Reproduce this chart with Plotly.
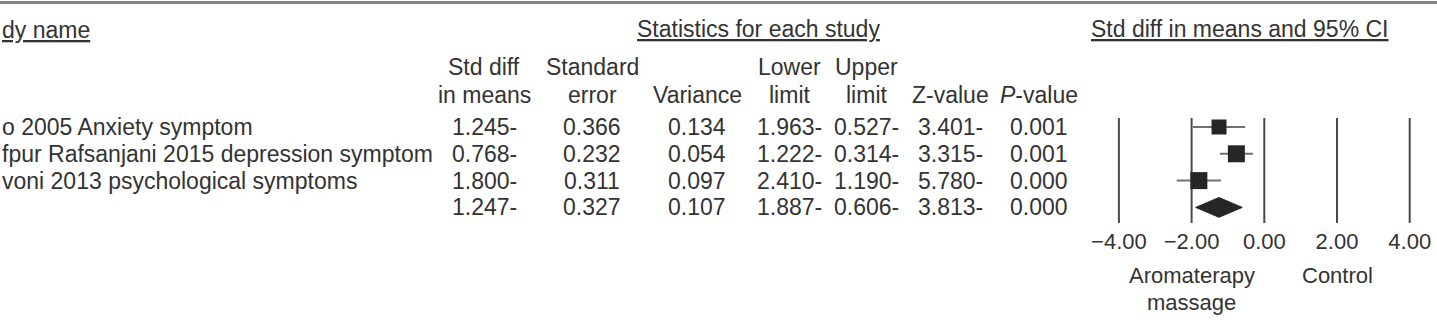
import plotly.graph_objects as go

# ---------------- data ----------------
studies = ["o 2005 Anxiety symptom",
           "fpur Rafsanjani 2015 depression symptom",
           "voni 2013 psychological symptoms"]
std_diff = [-1.245, -0.768, -1.800]
std_err = [0.366, 0.232, 0.311]
variance = [0.134, 0.054, 0.097]
lower = [-1.963, -1.222, -2.410]
upper = [-0.527, -0.314, -1.190]
z_value = [-3.401, -3.315, -5.780]
p_value = [0.001, 0.001, 0.000]

pooled_diff = -1.247
pooled_se = 0.327
pooled_var = 0.107
pooled_lower = -1.887
pooled_upper = -0.606
pooled_z = -3.813
pooled_p = 0.000

tick_vals = [-4, -2, 0, 2, 4]
left_label = ["Aromaterapy", "massage"]
right_label = "Control"

# ---------------- layout helpers ----------------
W, H = 1437, 323
FONT = "Liberation Sans, Arial, sans-serif"
TXT = "#333333"
FS = 23

def px(x):
    return x / W

def py(y):
    return 1 - y / H

# x scale: 0 at pixel 1264.3, 36.35 px per unit
X0, XS = 1264.3, 36.35
xr = [(0 - X0) / XS, (W - X0) / XS]
# y scale: row r at pixel 127 + 27*(r-1); axis bottom at pixel 226
ROW0, RS, YB = 127, 26.8, 226
yv = lambda p: 1 + (p - ROW0) / RS
yr = [yv(YB), yv(0)]


def neg(v):
    # values printed with trailing minus sign as in the source
    s = f"{abs(v):.3f}"
    return s + "-" if v < 0 else s


fig = go.Figure()

# vertical reference lines
line_top, line_bot = yv(118), yv(223)
for t in tick_vals:
    fig.add_trace(go.Scatter(x=[t, t], y=[line_top, line_bot], mode="lines",
                             line=dict(color="#4a4a4a", width=2),
                             hoverinfo="skip", showlegend=False))

rows = [1, 2, 3]
# confidence interval lines
ci_x, ci_y = [], []
for l, u, r in zip(lower, upper, rows):
    ci_x += [l, u, None]
    ci_y += [r, r, None]
fig.add_trace(go.Scatter(x=ci_x, y=ci_y, mode="lines",
                         line=dict(color="#707070", width=2),
                         hoverinfo="skip", showlegend=False))

# study squares
fig.add_trace(go.Scatter(
    x=std_diff, y=rows, mode="markers",
    marker=dict(symbol="square", size=[15, 17, 17], color="#262626",
                opacity=1, line=dict(width=0)),
    showlegend=False, hoverinfo="skip"))

# pooled diamond
dh = 0.37
fig.add_trace(go.Scatter(
    x=[pooled_lower, pooled_diff, pooled_upper, pooled_diff, pooled_lower],
    y=[4, 4 - dh, 4, 4 + dh, 4], mode="lines", fill="toself",
    fillcolor="#262626", line=dict(color="#262626", width=1),
    showlegend=False, hoverinfo="skip"))

ann = []

def add(text, x, y, xanchor="center", xref="paper", yref="paper", size=FS):
    ann.append(dict(text=text, x=x, y=y, xref=xref, yref=yref,
                    xanchor=xanchor, yanchor="middle", showarrow=False,
                    font=dict(family=FONT, size=size, color=TXT)))

# headers
add("<u>dy name</u>", px(0), py(30), xanchor="left")
add("<u>Statistics for each study</u>", px(758.5), py(29))
add("<u>Std diff in means and 95% CI</u>", px(1239), py(29))

col_x = [484, 592, 697, 789, 867, 950, 1039]
head1 = ["Std diff", "Standard", "", "Lower", "Upper", "", ""]
head2 = ["in means", "error", "Variance", "limit", "limit", "Z-value",
         "<i>P</i>-value"]
for cx, h1, h2 in zip(col_x, head1, head2):
    if h1:
        add(h1, px(cx), py(67))
    add(h2, px(cx), py(95))

# table rows
for i, r in enumerate(rows):
    add(studies[i], px(0), r, xanchor="left", yref="y")
    vals = [neg(std_diff[i]), f"{std_err[i]:.3f}", f"{variance[i]:.3f}",
            neg(lower[i]), neg(upper[i]), neg(z_value[i]), f"{p_value[i]:.3f}"]
    for cx, v in zip(col_x, vals):
        add(v, px(cx), r, yref="y")

pooled_vals = [neg(pooled_diff), f"{pooled_se:.3f}", f"{pooled_var:.3f}",
               neg(pooled_lower), neg(pooled_upper), neg(pooled_z),
               f"{pooled_p:.3f}"]
for cx, v in zip(col_x, pooled_vals):
    add(v, px(cx), 4, yref="y")

# axis side labels
add(left_label[0], -2, py(275), xref="x", size=22)
add(left_label[1], -2, py(302), xref="x", size=22)
add(right_label, 2, py(275), xref="x", size=22)

fig.update_layout(
    width=W, height=H, template="none",
    margin=dict(l=0, r=0, t=0, b=0, pad=0),
    paper_bgcolor="white", plot_bgcolor="white",
    showlegend=False,
    xaxis=dict(domain=[0, 1], range=xr, tickvals=tick_vals,
               tickformat=".2f", ticks="", showline=False, showgrid=False,
               zeroline=False, automargin=False,
               tickfont=dict(family=FONT, size=22, color=TXT)),
    yaxis=dict(domain=[py(YB), 1], range=yr, visible=False,
               automargin=False, showgrid=False, zeroline=False),
    annotations=ann,
    shapes=[dict(type="line", xref="paper", yref="paper", x0=0, x1=1,
                 y0=py(2.5), y1=py(2.5), line=dict(color="#858585", width=3))],
)

fig.write_html("out.html")
